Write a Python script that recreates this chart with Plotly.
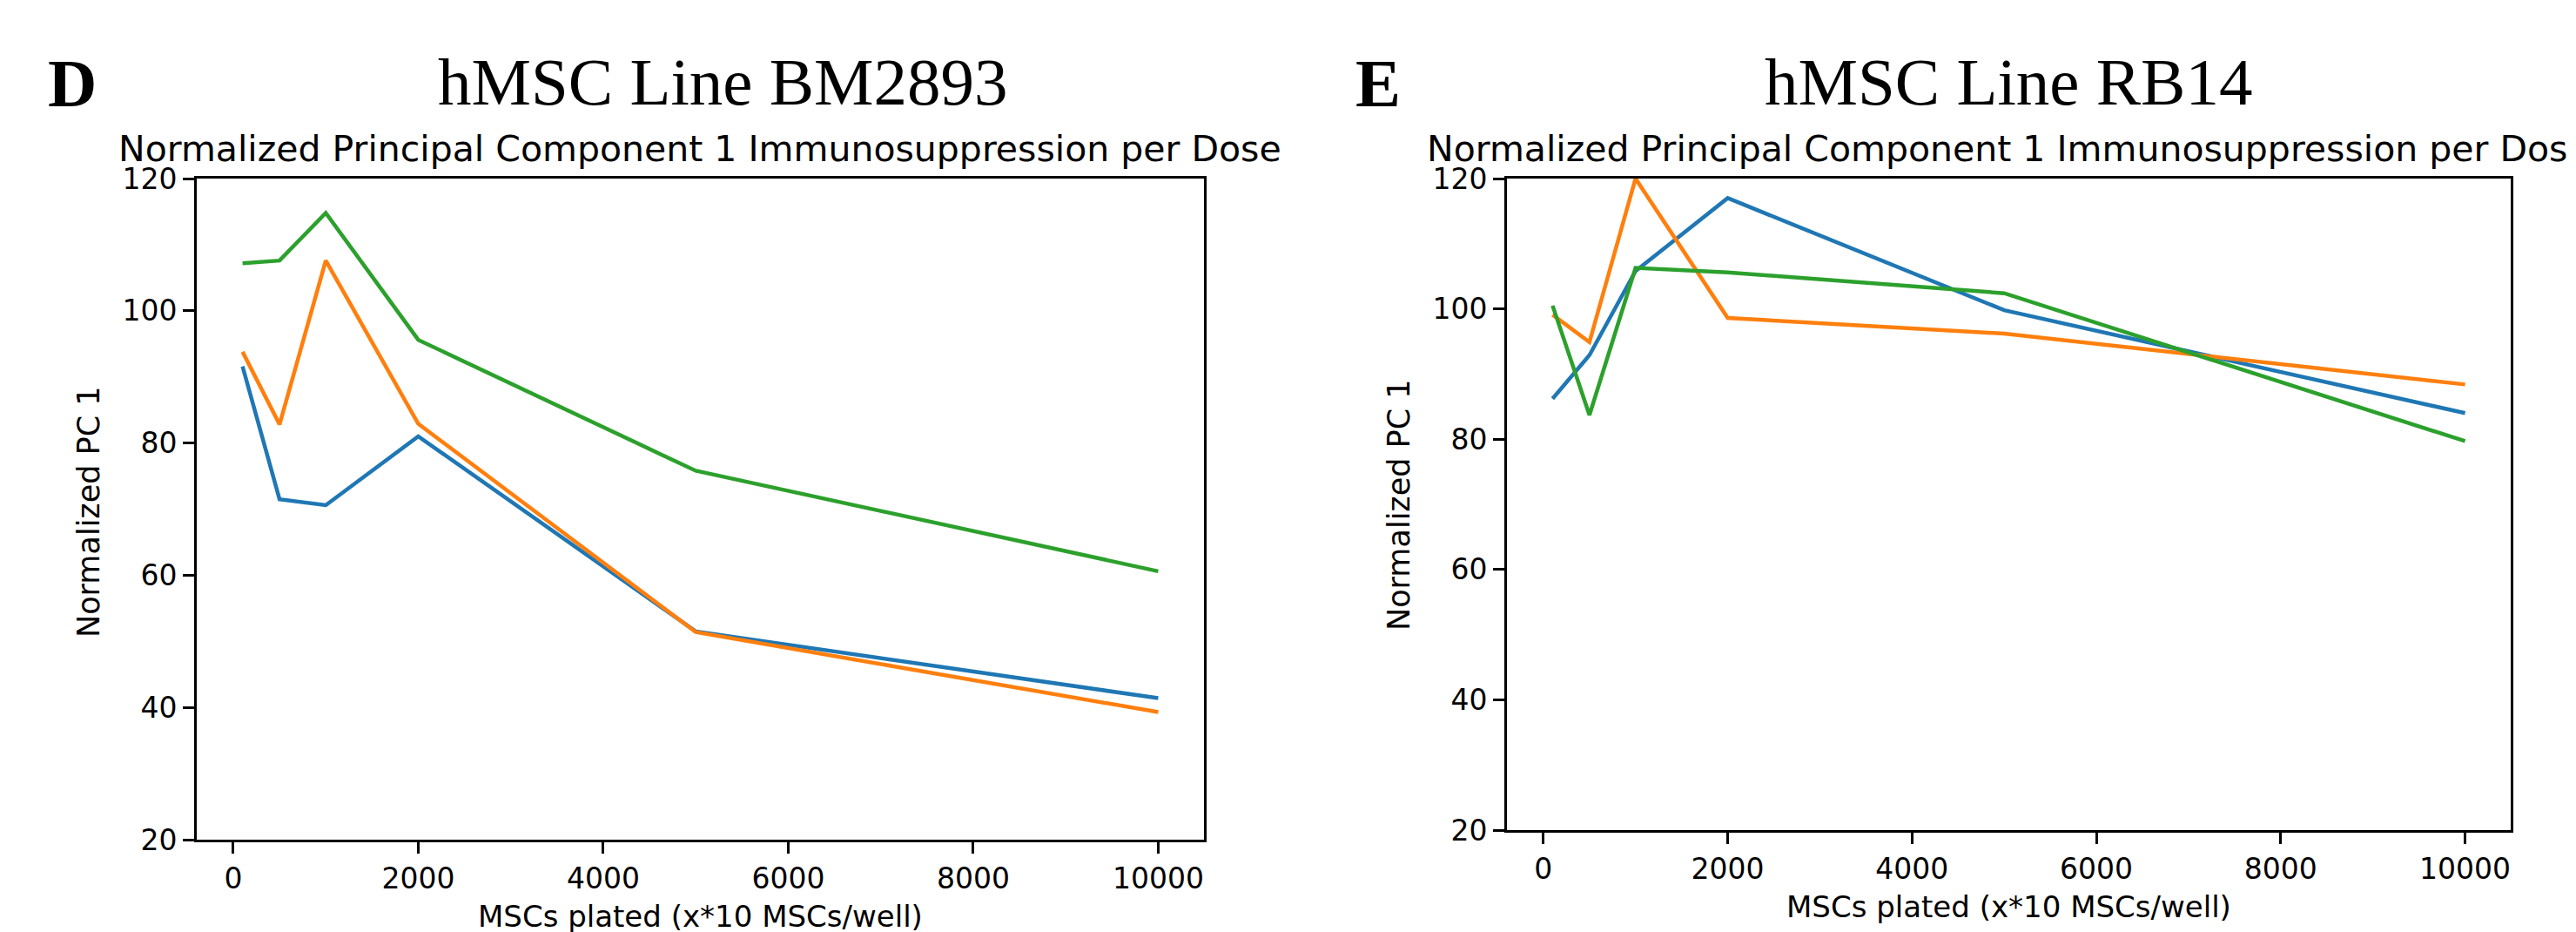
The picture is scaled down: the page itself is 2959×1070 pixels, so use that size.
import plotly.graph_objects as go

doses = [100, 500, 1000, 2000, 5000, 10000]

# Panel D: hMSC Line BM2893
bm_blue = [91.6, 71.5, 70.6, 81.0, 51.5, 41.4]
bm_orange = [93.8, 82.8, 107.6, 82.9, 51.4, 39.3]
bm_green = [107.2, 107.6, 114.8, 95.6, 75.8, 60.6]

# Panel E: hMSC Line RB14
rb_blue = [86.2, 92.9, 105.8, 117.0, 99.8, 84.0]
rb_orange = [99.1, 94.9, 120.0, 98.6, 96.2, 88.4]
rb_green = [100.5, 83.7, 106.3, 105.6, 102.4, 79.7]

x_ticks = [0, 2000, 4000, 6000, 8000, 10000]
x_ticklabels = ["0", "2000", "4000", "6000", "8000", "10000"]
y_ticks = [20, 40, 60, 80, 100, 120]

colors = ["#1f77b4", "#ff7f0e", "#2ca02c"]
W, H = 2959, 1070
OFF = 8  # page body offset

fig = go.Figure()
for ys, c in zip([bm_blue, bm_orange, bm_green], colors):
    fig.add_trace(go.Scatter(x=doses, y=ys, mode="lines", line=dict(color=c, width=4.5),
                             xaxis="x", yaxis="y", showlegend=False))
for ys, c in zip([rb_blue, rb_orange, rb_green], colors):
    fig.add_trace(go.Scatter(x=doses, y=ys, mode="lines", line=dict(color=c, width=4.5),
                             xaxis="x2", yaxis="y2", showlegend=False))

tickfont = dict(family="DejaVu Sans", size=33, color="black")
ax_common = dict(showline=True, linecolor="black", linewidth=3, mirror=True,
                 ticks="outside", ticklen=13, tickwidth=3, tickcolor="black",
                 showgrid=False, zeroline=False, tickfont=tickfont, automargin=False)

def px(v):
    return (v - OFF) / W

def py(v):
    return 1 - (v - OFF) / H

fig.update_layout(
    width=W, height=H, margin=dict(l=0, r=0, t=0, b=0, autoexpand=False),
    paper_bgcolor="white", plot_bgcolor="white",
    xaxis=dict(domain=[px(226), px(1383)], range=[-395, 10495], tickvals=x_ticks,
               ticktext=x_ticklabels, anchor="y", **ax_common),
    yaxis=dict(domain=[py(964), py(205)], range=[20, 120], tickvals=y_ticks,
               anchor="x", **ax_common),
    xaxis2=dict(domain=[px(1731), px(2884)], range=[-395, 10495], tickvals=x_ticks,
                ticktext=x_ticklabels, anchor="y2", **ax_common),
    yaxis2=dict(domain=[py(953), py(205)], range=[20, 120], tickvals=y_ticks,
                anchor="x2", **ax_common),
)

ann = []
sans = dict(family="DejaVu Sans", color="black")
serif = dict(family="Liberation Serif", color="black")
# panel letters
ann.append(dict(text="<b>D</b>", x=px(83), y=py(96), font=dict(size=78, **serif)))
ann.append(dict(text="<b>E</b>", x=px(1583), y=py(96), font=dict(size=78, **serif)))
# panel titles
ann.append(dict(text="hMSC Line BM2893", x=px(830), y=py(94), font=dict(size=77, **serif)))
ann.append(dict(text="hMSC Line RB14", x=px(2307), y=py(94), font=dict(size=77, **serif)))
# subtitles
sub = "Normalized Principal Component 1 Immunosuppression per Dose"
ann.append(dict(text=sub, x=px(804), y=py(171), font=dict(size=41, **sans)))
ann.append(dict(text=sub, x=px(2307), y=py(171), font=dict(size=41, **sans)))
# axis titles
xl = "MSCs plated (x*10 MSCs/well)"
ann.append(dict(text=xl, x=px(804), y=py(1052), font=dict(size=34, **sans)))
ann.append(dict(text=xl, x=px(2307), y=py(1041), font=dict(size=34, **sans)))
yl = "Normalized PC 1"
ann.append(dict(text=yl, x=px(102), y=py(587), textangle=-90, font=dict(size=35, **sans)))
ann.append(dict(text=yl, x=px(1607), y=py(579), textangle=-90, font=dict(size=35, **sans)))

for a in ann:
    a.update(xref="paper", yref="paper", showarrow=False, xanchor="center", yanchor="middle")
fig.update_layout(annotations=ann)

fig.write_html("out.html")
